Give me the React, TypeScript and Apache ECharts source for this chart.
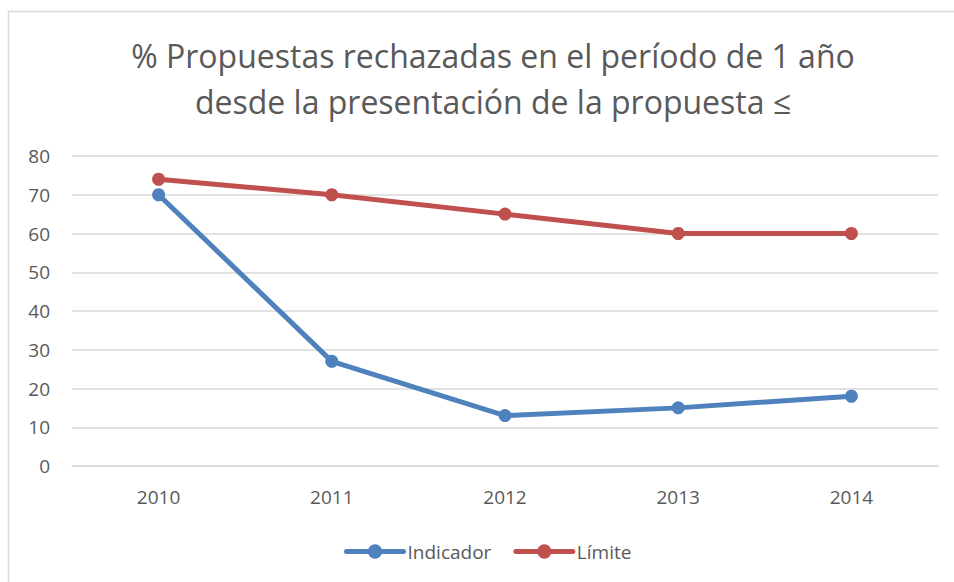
import React, { useEffect, useRef } from "react";
import * as echarts from "echarts";

const categories = ["2010", "2011", "2012", "2013", "2014"];
const indicador = [70, 27, 13, 15, 18];
const limite = [74, 70, 65, 60, 60];
const titleText = "% Propuestas rechazadas en el período de 1 año\ndesde la presentación de la propuesta ≤";

const FONT = "'Open Sans', 'Noto Sans', sans-serif";
const GRAY = "#595959";

export default function App() {
  const ref = useRef<HTMLDivElement>(null);
  useEffect(() => {
    const chart = echarts.init(ref.current!, null, { renderer: "svg" });
    chart.setOption({
      animation: false,
      backgroundColor: "#ffffff",
      textStyle: { fontFamily: FONT },
      graphic: [
        {
          type: "rect",
          shape: { x: 8.5, y: 11.5, width: 980, height: 600 },
          style: { fill: "none", stroke: "#d9d9d9", lineWidth: 1.5 },
          silent: true,
        },
      ],
      title: {
        text: titleText,
        left: 488,
        textAlign: "center",
        top: 27,
        textStyle: {
          fontFamily: FONT,
          fontSize: 32,
          fontWeight: "normal",
          color: GRAY,
          lineHeight: 46,
        },
      },
      grid: { left: 72, right: 16, top: 156, bottom: 116, containLabel: false },
      xAxis: {
        type: "category",
        data: categories,
        boundaryGap: true,
        axisLine: { show: true, lineStyle: { color: "#d9d9d9", width: 1.5 } },
        axisTick: { show: false },
        axisLabel: { color: GRAY, fontSize: 19, margin: 21, fontFamily: FONT },
      },
      yAxis: {
        type: "value",
        min: 0,
        max: 80,
        interval: 10,
        axisLine: { show: false },
        axisTick: { show: false },
        splitLine: { lineStyle: { color: "#d9d9d9", width: 1.5 } },
        axisLabel: { color: GRAY, fontSize: 19, margin: 22, fontFamily: FONT },
      },
      legend: {
        bottom: 16,
        left: 339,
        itemWidth: 57,
        itemHeight: 18,
        itemGap: 22,
        lineStyle: { width: 5, cap: "round" },
        textStyle: { color: GRAY, fontSize: 19, fontFamily: FONT, padding: [0, 0, 0, -1] },
        data: ["Indicador", "Límite"],
      },
      series: [
        {
          name: "Indicador",
          type: "line",
          data: indicador,
          color: "#4f81bd",
          lineStyle: { width: 5, color: "#4f81bd", cap: "round" },
          itemStyle: { color: "#4f81bd" },
          symbol: "circle",
          symbolSize: 13,
        },
        {
          name: "Límite",
          type: "line",
          data: limite,
          color: "#c0504d",
          lineStyle: { width: 5, color: "#c0504d", cap: "round" },
          itemStyle: { color: "#c0504d" },
          symbol: "circle",
          symbolSize: 13,
        },
      ],
    });
    return () => chart.dispose();
  }, []);
  return (
    <div
      ref={ref}
      style={{ position: "absolute", left: 0, top: 0, width: 954, height: 582 }}
    />
  );
}
